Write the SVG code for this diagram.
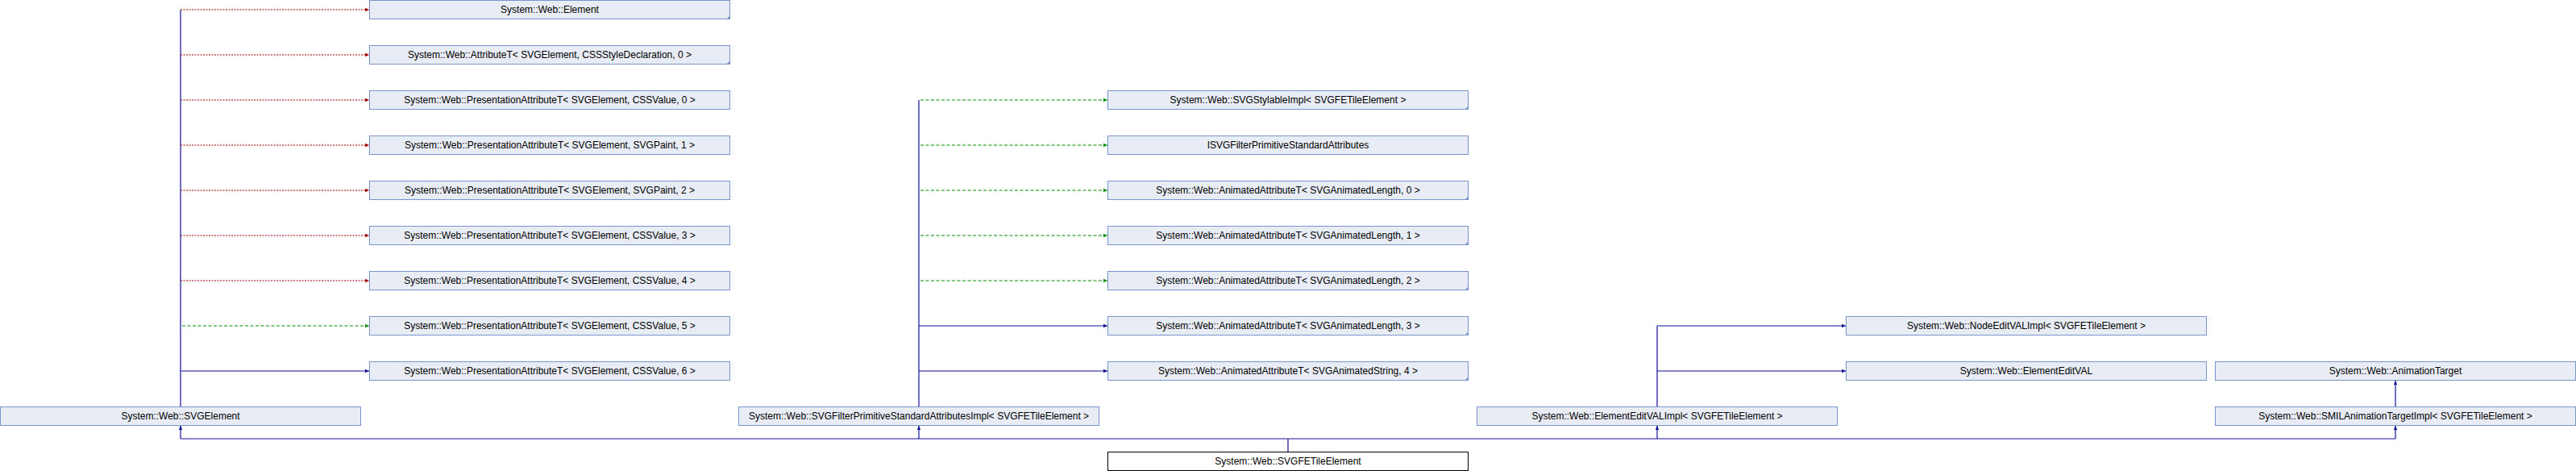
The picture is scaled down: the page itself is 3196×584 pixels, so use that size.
<svg xmlns="http://www.w3.org/2000/svg" width="3196" height="584" viewBox="0 0 3196 584">
<style>
.box{fill:#e8ecf5;stroke:#7b95cc;stroke-width:1}
.tgt{fill:#ffffff;stroke:#000000;stroke-width:1}
.corner{fill:#7b95cc}
.lbl{font-family:"Liberation Sans",Arial,sans-serif;font-size:12px;fill:#000000;text-anchor:middle}
.pub{stroke:#11119a;stroke-width:1.2;fill:none}
.prot{stroke:#009000;stroke-width:1.2;fill:none;stroke-dasharray:4,2.5}
.priv{stroke:#a00000;stroke-width:1.2;fill:none;stroke-dasharray:2,1.5}
</style>
<defs>
<marker id="aB" markerUnits="userSpaceOnUse" markerWidth="6" markerHeight="6" refX="5" refY="3" orient="auto"><path d="M0,0.8 L5,3 L0,5.2 z" fill="#11119a"/></marker>
<marker id="aG" markerUnits="userSpaceOnUse" markerWidth="6" markerHeight="6" refX="5" refY="3" orient="auto"><path d="M0,0.8 L5,3 L0,5.2 z" fill="#009000"/></marker>
<marker id="aR" markerUnits="userSpaceOnUse" markerWidth="6" markerHeight="6" refX="5" refY="3" orient="auto"><path d="M0,0.8 L5,3 L0,5.2 z" fill="#a00000"/></marker>
</defs>
<g id="connectors">
<line class="pub" x1="224" y1="12" x2="224" y2="505"/>
<line class="priv" x1="224" y1="12" x2="458" y2="12" marker-end="url(#aR)"/>
<line class="priv" x1="224" y1="68" x2="458" y2="68" marker-end="url(#aR)"/>
<line class="priv" x1="224" y1="124" x2="458" y2="124" marker-end="url(#aR)"/>
<line class="priv" x1="224" y1="180" x2="458" y2="180" marker-end="url(#aR)"/>
<line class="priv" x1="224" y1="236" x2="458" y2="236" marker-end="url(#aR)"/>
<line class="priv" x1="224" y1="292" x2="458" y2="292" marker-end="url(#aR)"/>
<line class="priv" x1="224" y1="348" x2="458" y2="348" marker-end="url(#aR)"/>
<line class="prot" x1="226" y1="404" x2="458" y2="404" marker-end="url(#aG)"/>
<line class="pub" x1="224" y1="460" x2="458" y2="460" marker-end="url(#aB)"/>
<line class="pub" x1="1140" y1="124" x2="1140" y2="505"/>
<line class="prot" x1="1142" y1="124" x2="1374" y2="124" marker-end="url(#aG)"/>
<line class="prot" x1="1142" y1="180" x2="1374" y2="180" marker-end="url(#aG)"/>
<line class="prot" x1="1142" y1="236" x2="1374" y2="236" marker-end="url(#aG)"/>
<line class="prot" x1="1142" y1="292" x2="1374" y2="292" marker-end="url(#aG)"/>
<line class="prot" x1="1142" y1="348" x2="1374" y2="348" marker-end="url(#aG)"/>
<line class="pub" x1="1140" y1="404" x2="1374" y2="404" marker-end="url(#aB)"/>
<line class="pub" x1="1140" y1="460" x2="1374" y2="460" marker-end="url(#aB)"/>
<line class="pub" x1="2056" y1="404" x2="2056" y2="505"/>
<line class="pub" x1="2056" y1="404" x2="2290" y2="404" marker-end="url(#aB)"/>
<line class="pub" x1="2056" y1="460" x2="2290" y2="460" marker-end="url(#aB)"/>
<line class="pub" x1="2972" y1="504" x2="2972" y2="472" marker-end="url(#aB)"/>
<line class="pub" x1="1598" y1="560" x2="1598" y2="544"/>
<line class="pub" x1="224" y1="544" x2="2972" y2="544"/>
<line class="pub" x1="224" y1="544" x2="224" y2="528" marker-end="url(#aB)"/>
<line class="pub" x1="1140" y1="544" x2="1140" y2="528" marker-end="url(#aB)"/>
<line class="pub" x1="2056" y1="544" x2="2056" y2="528" marker-end="url(#aB)"/>
<line class="pub" x1="2972" y1="544" x2="2972" y2="528" marker-end="url(#aB)"/>
</g>
<g id="n_element"><rect class="box" x="458.5" y="0.5" width="447" height="23"/><path class="corner" d="M905.5,19.5 L905.5,23.5 L901.5,23.5 z"/><text class="lbl" x="682" y="16">System::Web::Element</text></g>
<g id="n_attr"><rect class="box" x="458.5" y="56.5" width="447" height="23"/><path class="corner" d="M905.5,75.5 L905.5,79.5 L901.5,79.5 z"/><text class="lbl" x="682" y="72">System::Web::AttributeT&lt; SVGElement, CSSStyleDeclaration, 0 &gt;</text></g>
<g id="n_pa0"><rect class="box" x="458.5" y="112.5" width="447" height="23"/><text class="lbl" x="682" y="128">System::Web::PresentationAttributeT&lt; SVGElement, CSSValue, 0 &gt;</text></g>
<g id="n_pa1"><rect class="box" x="458.5" y="168.5" width="447" height="23"/><text class="lbl" x="682" y="184">System::Web::PresentationAttributeT&lt; SVGElement, SVGPaint, 1 &gt;</text></g>
<g id="n_pa2"><rect class="box" x="458.5" y="224.5" width="447" height="23"/><text class="lbl" x="682" y="240">System::Web::PresentationAttributeT&lt; SVGElement, SVGPaint, 2 &gt;</text></g>
<g id="n_pa3"><rect class="box" x="458.5" y="280.5" width="447" height="23"/><text class="lbl" x="682" y="296">System::Web::PresentationAttributeT&lt; SVGElement, CSSValue, 3 &gt;</text></g>
<g id="n_pa4"><rect class="box" x="458.5" y="336.5" width="447" height="23"/><text class="lbl" x="682" y="352">System::Web::PresentationAttributeT&lt; SVGElement, CSSValue, 4 &gt;</text></g>
<g id="n_pa5"><rect class="box" x="458.5" y="392.5" width="447" height="23"/><text class="lbl" x="682" y="408">System::Web::PresentationAttributeT&lt; SVGElement, CSSValue, 5 &gt;</text></g>
<g id="n_pa6"><rect class="box" x="458.5" y="448.5" width="447" height="23"/><text class="lbl" x="682" y="464">System::Web::PresentationAttributeT&lt; SVGElement, CSSValue, 6 &gt;</text></g>
<g id="n_stylable"><rect class="box" x="1374.5" y="112.5" width="447" height="23"/><path class="corner" d="M1821.5,131.5 L1821.5,135.5 L1817.5,135.5 z"/><text class="lbl" x="1598" y="128">System::Web::SVGStylableImpl&lt; SVGFETileElement &gt;</text></g>
<g id="n_isvgfilter"><rect class="box" x="1374.5" y="168.5" width="447" height="23"/><text class="lbl" x="1598" y="184">ISVGFilterPrimitiveStandardAttributes</text></g>
<g id="n_aa0"><rect class="box" x="1374.5" y="224.5" width="447" height="23"/><path class="corner" d="M1821.5,243.5 L1821.5,247.5 L1817.5,247.5 z"/><text class="lbl" x="1598" y="240">System::Web::AnimatedAttributeT&lt; SVGAnimatedLength, 0 &gt;</text></g>
<g id="n_aa1"><rect class="box" x="1374.5" y="280.5" width="447" height="23"/><path class="corner" d="M1821.5,299.5 L1821.5,303.5 L1817.5,303.5 z"/><text class="lbl" x="1598" y="296">System::Web::AnimatedAttributeT&lt; SVGAnimatedLength, 1 &gt;</text></g>
<g id="n_aa2"><rect class="box" x="1374.5" y="336.5" width="447" height="23"/><path class="corner" d="M1821.5,355.5 L1821.5,359.5 L1817.5,359.5 z"/><text class="lbl" x="1598" y="352">System::Web::AnimatedAttributeT&lt; SVGAnimatedLength, 2 &gt;</text></g>
<g id="n_aa3"><rect class="box" x="1374.5" y="392.5" width="447" height="23"/><path class="corner" d="M1821.5,411.5 L1821.5,415.5 L1817.5,415.5 z"/><text class="lbl" x="1598" y="408">System::Web::AnimatedAttributeT&lt; SVGAnimatedLength, 3 &gt;</text></g>
<g id="n_as4"><rect class="box" x="1374.5" y="448.5" width="447" height="23"/><path class="corner" d="M1821.5,467.5 L1821.5,471.5 L1817.5,471.5 z"/><text class="lbl" x="1598" y="464">System::Web::AnimatedAttributeT&lt; SVGAnimatedString, 4 &gt;</text></g>
<g id="n_nodeeditval"><rect class="box" x="2290.5" y="392.5" width="447" height="23"/><text class="lbl" x="2514" y="408">System::Web::NodeEditVALImpl&lt; SVGFETileElement &gt;</text></g>
<g id="n_elementeditval"><rect class="box" x="2290.5" y="448.5" width="447" height="23"/><text class="lbl" x="2514" y="464">System::Web::ElementEditVAL</text></g>
<g id="n_animtarget"><rect class="box" x="2748.5" y="448.5" width="447" height="23"/><text class="lbl" x="2972" y="464">System::Web::AnimationTarget</text></g>
<g id="n_svgelement"><rect class="box" x="0.5" y="504.5" width="447" height="23"/><text class="lbl" x="224" y="520">System::Web::SVGElement</text></g>
<g id="n_filterimpl"><rect class="box" x="916.5" y="504.5" width="447" height="23"/><text class="lbl" x="1140" y="520">System::Web::SVGFilterPrimitiveStandardAttributesImpl&lt; SVGFETileElement &gt;</text></g>
<g id="n_elementeditvalimpl"><rect class="box" x="1832.5" y="504.5" width="447" height="23"/><text class="lbl" x="2056" y="520">System::Web::ElementEditVALImpl&lt; SVGFETileElement &gt;</text></g>
<g id="n_smil"><rect class="box" x="2748.5" y="504.5" width="447" height="23"/><text class="lbl" x="2972" y="520">System::Web::SMILAnimationTargetImpl&lt; SVGFETileElement &gt;</text></g>
<g id="n_target"><rect class="tgt" x="1374.5" y="560.5" width="447" height="23"/><text class="lbl" x="1598" y="576">System::Web::SVGFETileElement</text></g>
</svg>
